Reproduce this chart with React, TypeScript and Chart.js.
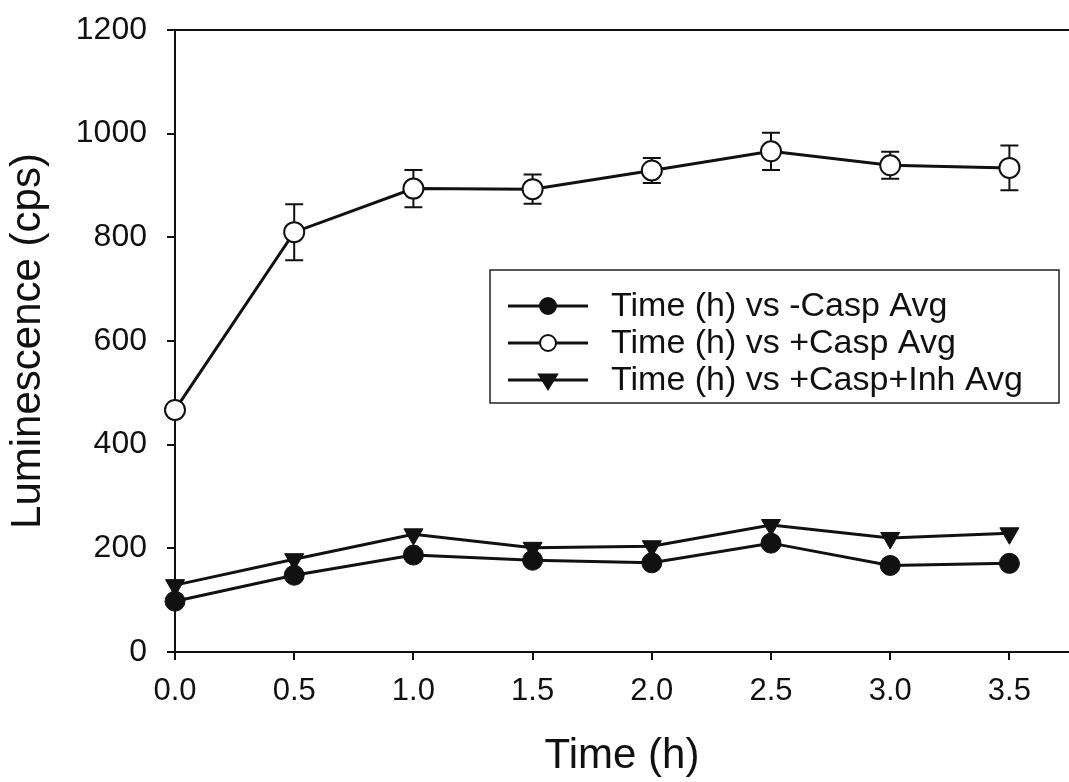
import React, { useEffect, useRef } from "react";
import { Chart, registerables } from "chart.js";

Chart.register(...registerables);

const timeH = [0.0, 0.5, 1.0, 1.5, 2.0, 2.5, 3.0, 3.5];
const minusCaspAvg = [98, 148, 187, 177, 172, 210, 167, 171];
const plusCaspAvg = [467, 810, 894, 893, 929, 966, 939, 934];
const plusCaspErr = [0, 54, 36, 28, 24, 36, 26, 43];
const plusCaspInhAvg = [129, 179, 227, 201, 204, 245, 220, 229];
const seriesLabels = [
  "Time (h) vs -Casp Avg",
  "Time (h) vs +Casp Avg",
  "Time (h) vs +Casp+Inh Avg",
];
const yTicks = [0, 200, 400, 600, 800, 1000, 1200];
const xTicks = [0.0, 0.5, 1.0, 1.5, 2.0, 2.5, 3.0, 3.5];

const FONT = "'Liberation Sans', Arial, Helvetica, sans-serif";

const errorBarPlugin = {
  id: "errorBars",
  beforeDatasetsDraw(chart: any) {
    const ctx = chart.ctx;
    const xs = chart.scales.x;
    const ys = chart.scales.y;
    ctx.save();
    ctx.strokeStyle = "#111";
    ctx.lineWidth = 2;
    timeH.forEach((t, i) => {
      const e = plusCaspErr[i];
      if (!e) return;
      const x = xs.getPixelForValue(t);
      const yTop = ys.getPixelForValue(plusCaspAvg[i] + e);
      const yBot = ys.getPixelForValue(plusCaspAvg[i] - e);
      const cap = 9;
      ctx.beginPath();
      ctx.moveTo(x, yTop);
      ctx.lineTo(x, yBot);
      ctx.moveTo(x - cap, yTop);
      ctx.lineTo(x + cap, yTop);
      ctx.moveTo(x - cap, yBot);
      ctx.lineTo(x + cap, yBot);
      ctx.stroke();
    });
    ctx.restore();
  },
};

const framePlugin = {
  id: "frame",
  afterDraw(chart: any) {
    const ctx = chart.ctx;
    const a = chart.chartArea;
    ctx.save();
    ctx.strokeStyle = "#111";
    ctx.lineWidth = 2;
    ctx.beginPath();
    ctx.moveTo(a.left, a.top);
    ctx.lineTo(a.right, a.top);
    ctx.stroke();

    // legend box
    const bx = 490, by = 270, bw = 569, bh = 133;
    ctx.lineWidth = 1.5;
    ctx.strokeStyle = "#222";
    ctx.fillStyle = "#fff";
    ctx.fillRect(bx, by, bw, bh);
    ctx.strokeRect(bx, by, bw, bh);
    const rows = [306, 343, 380];
    chart.data.datasets.forEach((ds: any, i: number) => {
      const y = rows[i];
      ctx.strokeStyle = "#111";
      ctx.lineWidth = 3;
      ctx.beginPath();
      ctx.moveTo(508, y);
      ctx.lineTo(588, y);
      ctx.stroke();
      ctx.lineWidth = 2;
      ctx.fillStyle = ds.pointBackgroundColor;
      ctx.strokeStyle = "#111";
      if (ds.pointStyle === "triangle") {
        const r = 9;
        ctx.beginPath();
        ctx.moveTo(548 - r, y - r * 0.6);
        ctx.lineTo(548 + r, y - r * 0.6);
        ctx.lineTo(548, y + r);
        ctx.closePath();
        ctx.fill();
        ctx.stroke();
      } else {
        ctx.beginPath();
        ctx.arc(548, y, 8, 0, Math.PI * 2);
        ctx.fill();
        ctx.stroke();
      }
      ctx.fillStyle = "#111";
      ctx.font = `34px ${FONT}`;
      ctx.textBaseline = "middle";
      ctx.textAlign = "left";
      ctx.fillText(ds.label, 611, y + 1);
    });
    ctx.restore();
  },
};

export default function App() {
  const ref = useRef<HTMLCanvasElement | null>(null);
  useEffect(() => {
    if (!ref.current) return;
    const mk = (vals: number[]) => timeH.map((t, i) => ({ x: t, y: vals[i] }));
    const chart = new Chart(ref.current, {
      type: "line",
      data: {
        datasets: [
          {
            label: seriesLabels[0],
            data: mk(minusCaspAvg),
            borderColor: "#111",
            borderWidth: 3,
            pointStyle: "circle",
            pointRadius: 10,
            pointBackgroundColor: "#111",
            pointBorderColor: "#111",
            pointBorderWidth: 1,
            clip: false,
          },
          {
            label: seriesLabels[1],
            data: mk(plusCaspAvg),
            borderColor: "#111",
            borderWidth: 3,
            pointStyle: "circle",
            pointRadius: 10,
            pointBackgroundColor: "#fff",
            pointBorderColor: "#111",
            pointBorderWidth: 2,
            clip: false,
          },
          {
            label: seriesLabels[2],
            data: mk(plusCaspInhAvg),
            borderColor: "#111",
            borderWidth: 3,
            pointStyle: "triangle",
            pointRotation: 180,
            pointRadius: 11,
            pointBackgroundColor: "#111",
            pointBorderColor: "#111",
            pointBorderWidth: 1,
            clip: false,
          },
        ],
      },
      options: {
        animation: false,
        responsive: false,
        layout: { autoPadding: false, padding: { top: 30, right: 0, left: 0, bottom: 0 } },
        plugins: { legend: { display: false }, tooltip: { enabled: false } },
        scales: {
          x: {
            type: "linear",
            min: 0,
            max: 3.75,
            afterFit: (s: any) => {
              s.height = 130;
              s.paddingRight = 0;
              s.paddingLeft = 0;
            },
            afterBuildTicks: (s: any) => {
              s.ticks = xTicks.map((v) => ({ value: v }));
            },
            ticks: {
              includeBounds: false,
              color: "#111",
              font: { family: FONT, size: 31 },
              padding: 13,
              callback: (v: any) => Number(v).toFixed(1),
              maxRotation: 0,
            },
            grid: {
              drawOnChartArea: false,
              drawTicks: true,
              tickLength: 8,
              color: "#111",
              lineWidth: 2,
            },
            border: { color: "#111", width: 2 },
            title: {
              display: true,
              text: "Time (h)",
              color: "#111",
              font: { family: FONT, size: 42 },
              padding: { top: 0, bottom: 0 },
            },
          },
          y: {
            min: 0,
            max: 1200,
            afterFit: (s: any) => {
              s.width = 175;
              s.paddingTop = 0;
              s.paddingBottom = 0;
            },
            afterBuildTicks: (s: any) => {
              s.ticks = yTicks.map((v) => ({ value: v }));
            },
            ticks: {
              color: "#111",
              font: { family: FONT, size: 32 },
              padding: 20,
              callback: (v: any) => String(v),
            },
            grid: {
              drawOnChartArea: false,
              drawTicks: true,
              tickLength: 8,
              color: "#111",
              lineWidth: 2,
            },
            border: { color: "#111", width: 2 },
            title: {
              display: true,
              text: "Luminescence (cps)",
              color: "#111",
              font: { family: FONT, size: 42 },
              padding: { top: 3, bottom: 0 },
            },
          },
        },
      },
      plugins: [errorBarPlugin, framePlugin],
    });
    return () => chart.destroy();
  }, []);
  return (
    <div style={{ position: "fixed", left: 0, top: 0, width: 1069, height: 782, background: "#fff" }}>
      <canvas ref={ref} width={1069} height={782} style={{ display: "block" }} />
    </div>
  );
}
